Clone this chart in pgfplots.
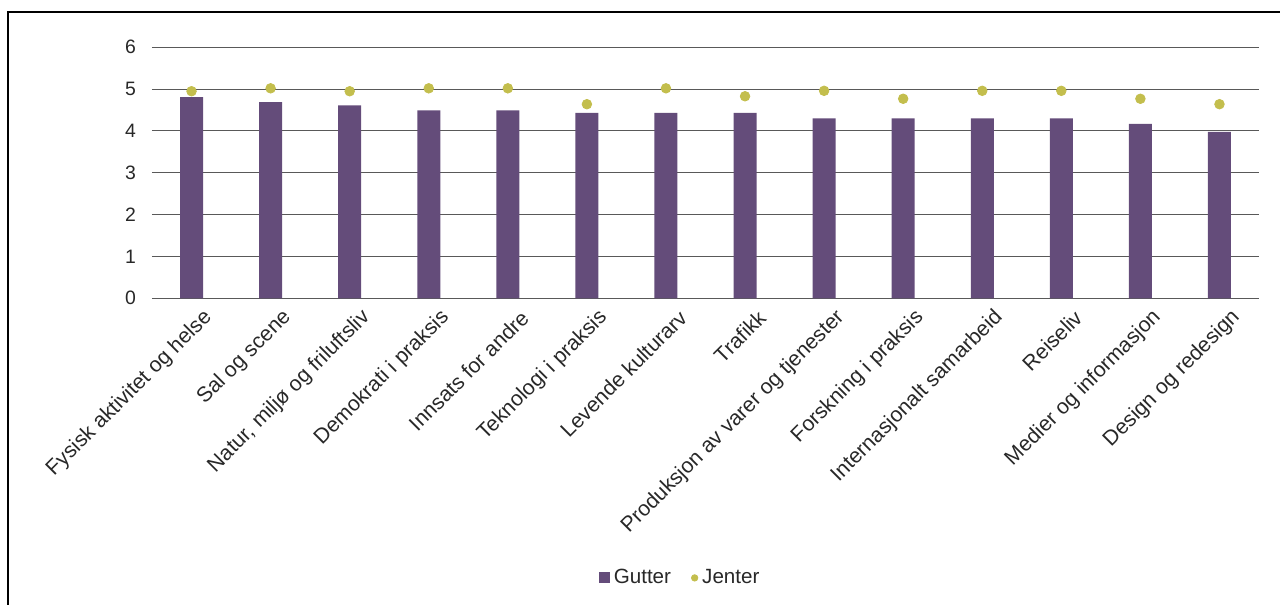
\documentclass[border=0pt]{standalone}
\usepackage{fontspec}
\setmainfont{Liberation Sans}
\usepackage{pgfplots}
\pgfplotsset{compat=1.18}
\definecolor{gut}{RGB}{100,76,122}
\definecolor{jen}{RGB}{195,190,77}
\definecolor{txt}{RGB}{40,40,40}
\begin{document}
\begin{tikzpicture}
\useasboundingbox (0,0) rectangle (640pt,302.5pt);
\draw[line width=1pt] (4pt,-5pt) -- (4pt,296.25pt) -- (650pt,296.25pt);
\begin{axis}[
  at={(76pt,153.35pt)}, anchor=south west,
  scale only axis, width=553.5pt, height=125.5pt,
  xmin=-0.5, xmax=13.5, ymin=0, ymax=6,
  ytick={0,1,2,3,4,5,6},
  xtick={0,...,13},
  xticklabels={Fysisk aktivitet og helse, Sal og scene, {Natur, miljø og friluftsliv}, Demokrati i praksis, Innsats for andre, Teknologi i praksis, Levende kulturarv, Trafikk, Produksjon av varer og tjenester, Forskning i praksis, Internasjonalt samarbeid, Reiseliv, Medier og informasjon, Design og redesign},
  axis line style={draw=none},
  major tick length=0pt,
  ymajorgrids,
  grid style={black!65, line width=0.5pt},
  /pgf/number format/assume math mode=true,
  yticklabel style={font=\fontsize{9.7}{11}\selectfont, text=txt, xshift=-4.5pt},
  xticklabel style={font=\fontsize{10.6}{12}\selectfont, text=txt, xshift=11pt, yshift=-5.5pt, rotate=45, anchor=east},
  clip=false,
  legend style={draw=none, at={(0.478,-1.114)}, anchor=center, font=\fontsize{10.3}{12}\selectfont, text=txt, legend columns=2, /tikz/every even column/.append style={column sep=8pt}},
]
\addplot[ybar, bar width=11.5pt, fill=gut, draw=none,
  legend image code/.code={\fill[gut] (0pt,-2.75pt) rectangle (5.5pt,2.75pt);}]
  coordinates {(0,4.81) (1,4.69) (2,4.61) (3,4.49) (4,4.49) (5,4.43) (6,4.43) (7,4.43) (8,4.30) (9,4.30) (10,4.30) (11,4.30) (12,4.17) (13,3.98)};
\addlegendentry{Gutter}
\addplot[only marks, mark=*, mark size=2.4pt, mark options={fill=jen, draw=jen},
  legend image code/.code={\fill[jen] (2.5pt,0pt) circle (1.6pt);}]
  coordinates {(0,4.95) (1,5.02) (2,4.95) (3,5.02) (4,5.02) (5,4.64) (6,5.02) (7,4.83) (8,4.96) (9,4.77) (10,4.96) (11,4.96) (12,4.77) (13,4.64)};
\addlegendentry{Jenter}
\end{axis}
\end{tikzpicture}
\end{document}
